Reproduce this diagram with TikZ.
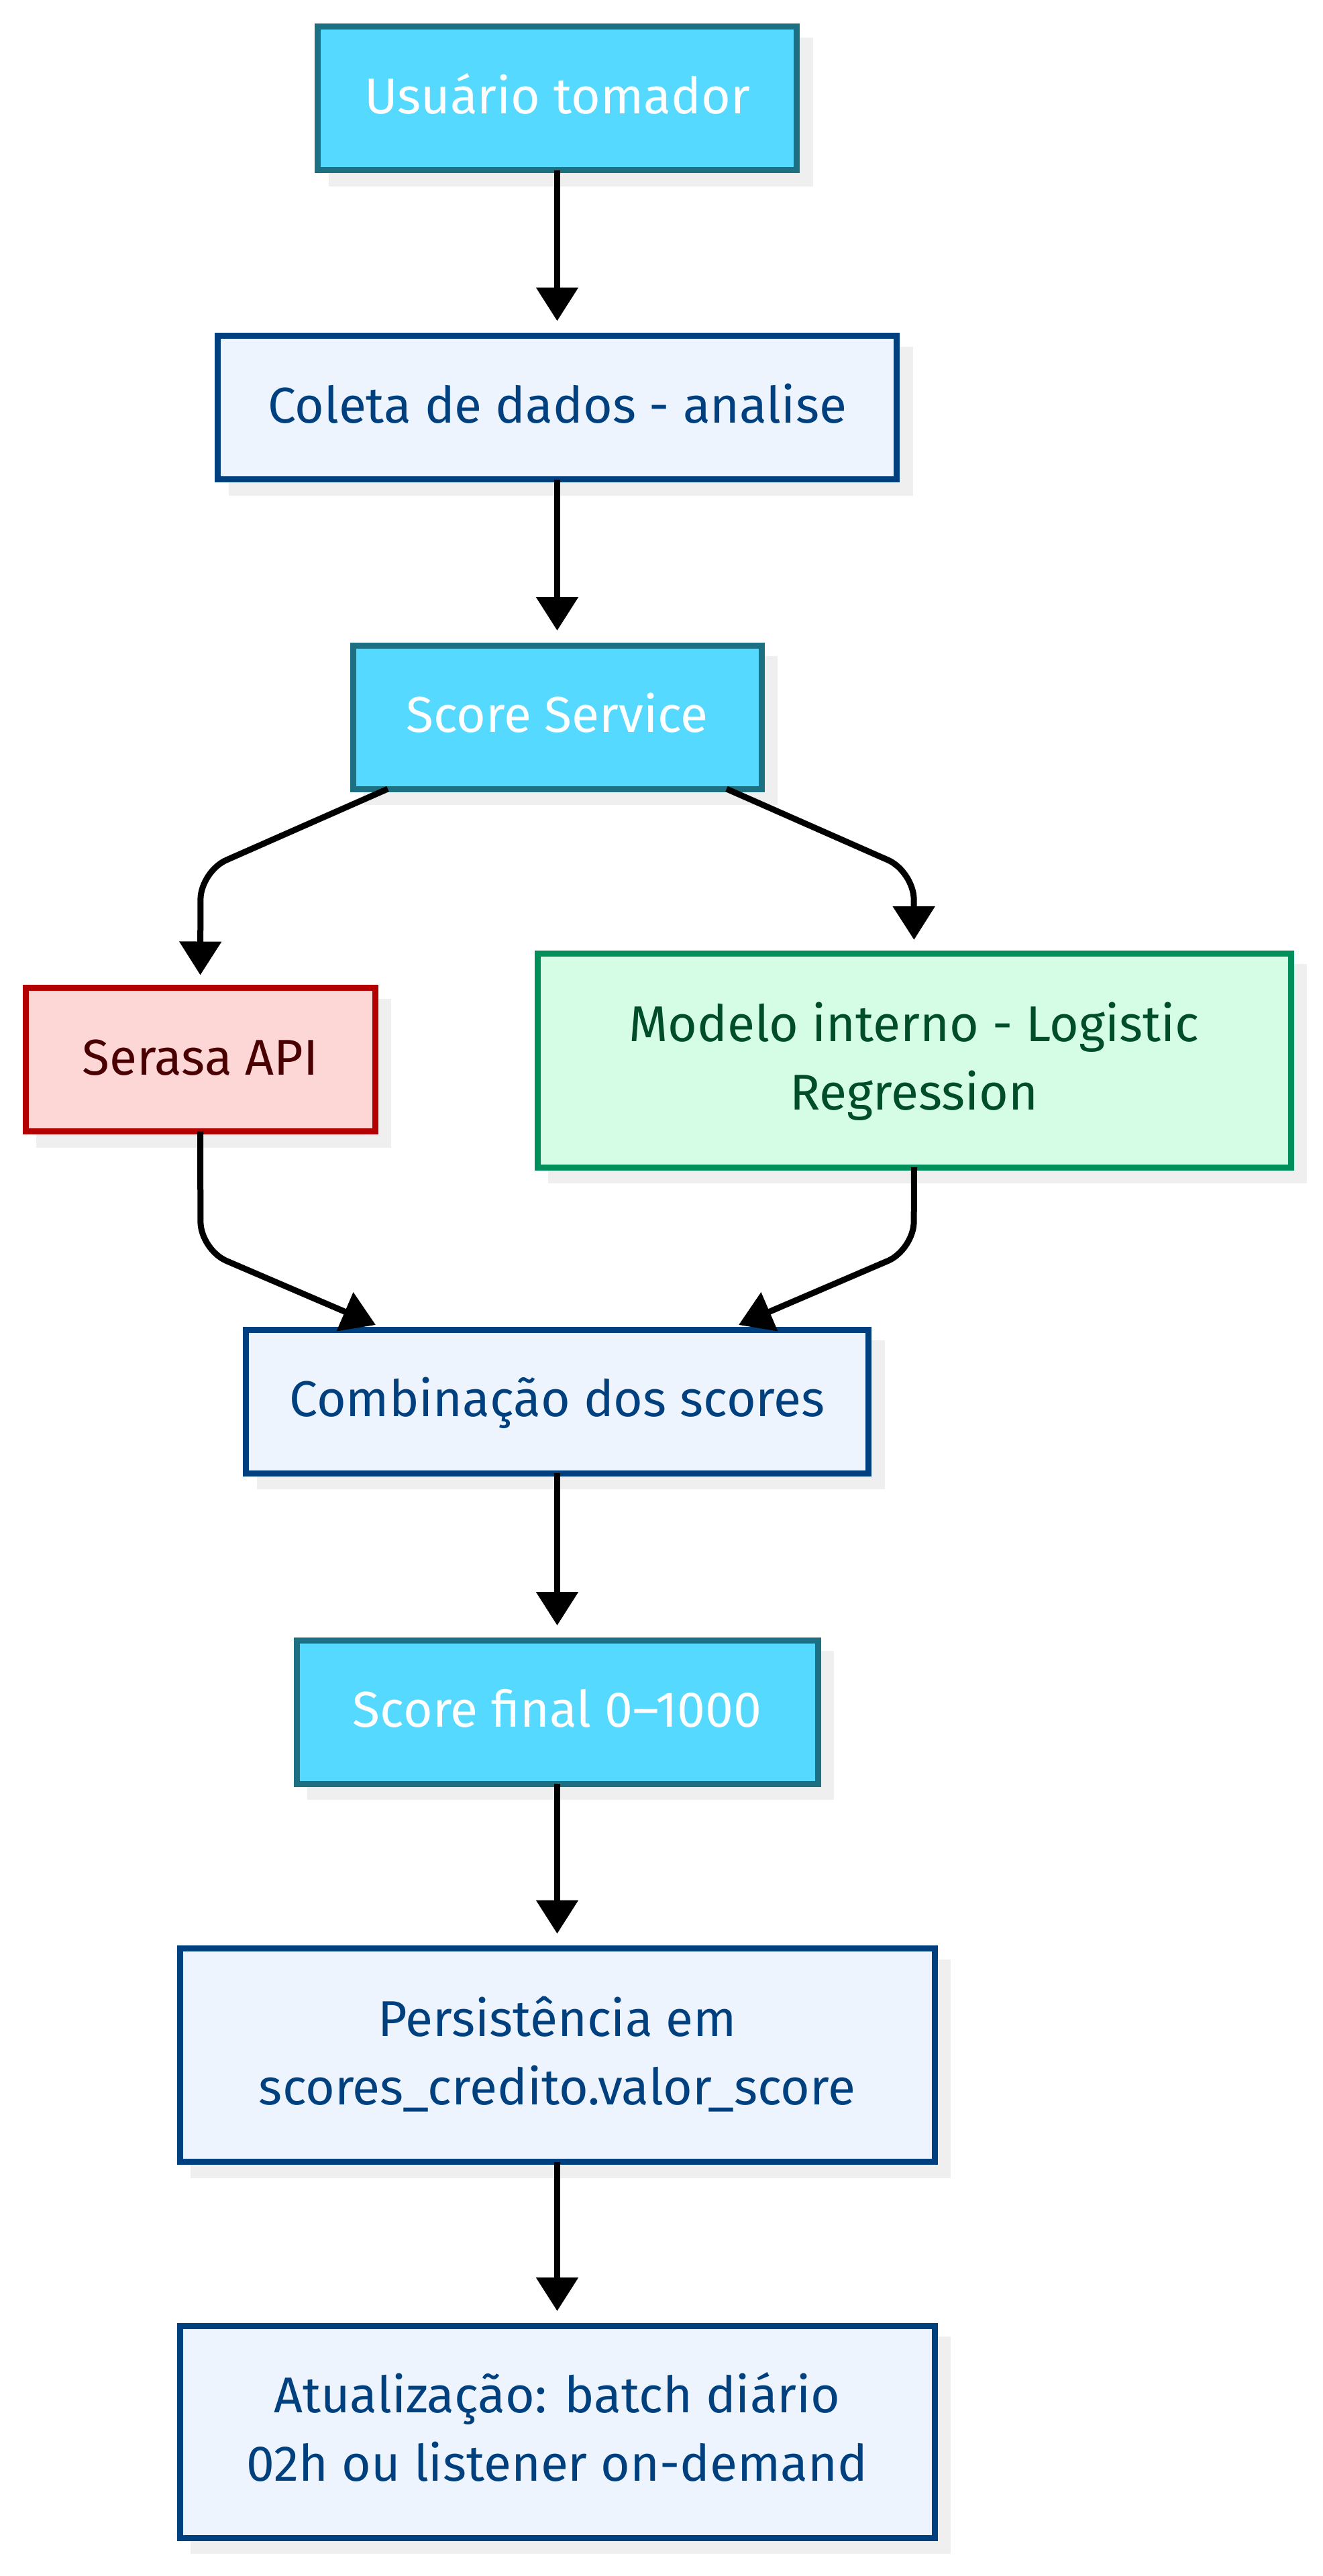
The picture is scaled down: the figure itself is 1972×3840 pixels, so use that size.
\documentclass[tikz,border=0pt]{standalone}
\usepackage{fontspec}
\setmainfont{Fira Sans}
\usetikzlibrary{arrows.meta,backgrounds}
\definecolor{cyanfill}{HTML}{55D9FF}
\definecolor{cyanstroke}{HTML}{1D7082}
\definecolor{bluefill}{HTML}{EEF4FD}
\definecolor{bluestroke}{HTML}{00407F}
\definecolor{redfill}{HTML}{FDD6D6}
\definecolor{redstroke}{HTML}{B30000}
\definecolor{redtext}{HTML}{4A0000}
\definecolor{greenfill}{HTML}{D5FDE6}
\definecolor{greenstroke}{HTML}{008F5A}
\definecolor{greentext}{HTML}{004D2A}
\definecolor{shadowc}{HTML}{EFEFEF}
\newcommand\twoln[2]{\vbox{\baselineskip=102pt\lineskiplimit=-300pt\lineskip=0pt\halign{\hfil##\hfil\cr#1\cr#2\cr}}}
\begin{document}
\begin{tikzpicture}[x=1pt,y=-1pt,
  nbox/.style={draw, line width=9pt, inner sep=0pt, outer sep=0pt, rectangle,
    font=\fontsize{75pt}{102pt}\selectfont},
  oneline/.style={text height=73.5pt, text depth=28.5pt},
  twoline/.style={text height=175.5pt, text depth=28.5pt},
  cyanbox/.style={nbox, fill=cyanfill, draw=cyanstroke, text=white},
  bluebox/.style={nbox, fill=bluefill, draw=bluestroke, text=bluestroke},
  redbox/.style={nbox, fill=redfill, draw=redstroke, text=redtext},
  greenbox/.style={nbox, fill=greenfill, draw=greenstroke, text=greentext},
  arr/.style={draw=black, line width=9pt, -{Triangle[length=50pt,width=61pt]}},
  shadowfill/.style={fill=shadowc}
]
\useasboundingbox (0,0) rectangle (1972,3840);

\node[cyanbox, oneline, minimum width=714pt, minimum height=214pt] (us) at (830.5,147) {Usuário tomador};
\node[bluebox, oneline, minimum width=1012pt, minimum height=214pt] (co) at (830.5,607.5) {Coleta de dados - analise};
\node[cyanbox, oneline, minimum width=609pt, minimum height=214pt] (ss) at (830.5,1069) {Score Service};
\node[redbox, oneline, minimum width=521pt, minimum height=214pt] (se) at (298.5,1579.5) {Serasa API};
\node[greenbox, twoline, minimum width=1123pt, minimum height=319pt] (mo) at (1362.5,1580.5) {\twoln{Modelo interno - Logistic}{Regression}};
\node[bluebox, oneline, minimum width=928pt, minimum height=214pt] (cb) at (830.5,2089) {Combinação dos scores};
\node[cyanbox, oneline, minimum width=777pt, minimum height=214pt] (sf) at (830.5,2552) {Score final 0–1000};
\node[bluebox, twoline, minimum width=1125pt, minimum height=318pt] (pe) at (830.5,3063.5) {\twoln{Persistência em}{scores\_credito.valor\_score}};
\node[bluebox, twoline, minimum width=1125pt, minimum height=316pt] (at) at (830.5,3625) {\twoln{Atualização: batch diário}{02h ou listener on-demand}};

\begin{scope}[on background layer]
  \fill[white] (0,0) rectangle (1972,3840);
  \foreach \n in {us,co,ss,se,mo,cb,sf,pe,at}{
    \fill[shadowfill] ([shift={(16,16)}]\n.north west) rectangle ([shift={(24,24)}]\n.south east);
  }
\end{scope}

\coordinate (bl1) at (299,1299);
\coordinate (br1) at (1362,1299);
\coordinate (bl2) at (299,1863);
\coordinate (br2) at (1362,1863);

\draw[arr, shorten >=22pt] (us) -- (co);
\draw[arr, shorten >=22pt] (co) -- (ss);
\draw[arr, rounded corners=42pt, shorten >=19pt] ([xshift=-252.5pt]ss.south) -- (bl1) -- (se.north);
\draw[arr, rounded corners=42pt, shorten >=20pt] ([xshift=252.5pt]ss.south) -- (br1) -- (mo.north);
\draw[arr, rounded corners=42pt] (se.south) -- (bl2) -- ([shift={(-270.5,-7)}]cb.north);
\draw[arr, rounded corners=42pt] (mo.south) -- (br2) -- ([shift={(270.5,-7)}]cb.north);
\draw[arr, shorten >=22pt] (cb) -- (sf);
\draw[arr, shorten >=22pt] (sf) -- (pe);
\draw[arr, shorten >=22pt] (pe) -- (at);
\end{tikzpicture}
\end{document}
